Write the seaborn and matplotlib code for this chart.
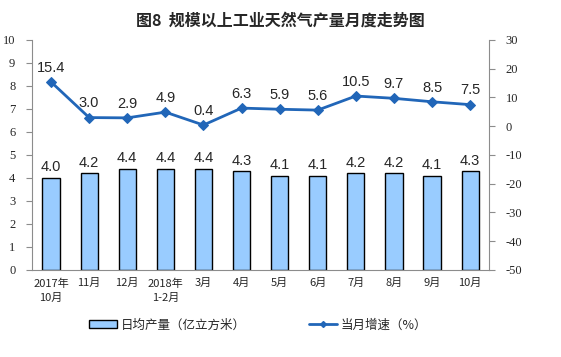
import numpy as np
import pandas as pd
import seaborn as sns
import matplotlib.pyplot as plt
from matplotlib.patches import Patch
from matplotlib.lines import Line2D

# data
months = ["2017年\n10月", "11月", "12月", "2018年\n1-2月", "3月", "4月",
          "5月", "6月", "7月", "8月", "9月", "10月"]
daily_output = [4.0, 4.2, 4.4, 4.4, 4.4, 4.3, 4.1, 4.1, 4.2, 4.2, 4.1, 4.3]
growth = [15.4, 3.0, 2.9, 4.9, 0.4, 6.3, 5.9, 5.6, 10.5, 9.7, 8.5, 7.5]

sns.set_style("white")
plt.rcParams['font.family'] = ['Noto Sans CJK SC', 'DejaVu Sans']
plt.rcParams['axes.unicode_minus'] = False

bar_color = "#99CCFF"
line_color = "#2166B8"
axis_color = "#8C8C8C"

df = pd.DataFrame({"month": months, "output": daily_output, "growth": growth})

fig = plt.figure(figsize=(5.61, 3.57), dpi=100)
ax = fig.add_axes([0.057, 0.244, 0.815, 0.644])

sns.barplot(data=df, x="month", y="output", color=bar_color, edgecolor="black",
            linewidth=1.0, width=0.45, saturation=1, ax=ax)
ax.set_xlim(-0.5, len(months) - 0.5)
ax.set_ylim(0, 10)
ax.set_yticks(range(0, 11))
ax.set_xlabel("")
ax.set_ylabel("")

for i, v in enumerate(daily_output):
    ax.text(i, v + 0.15, f"{v:.1f}", ha="center", va="bottom", fontsize=10.5,
            family="Liberation Sans")

ax2 = ax.twinx()
sns.lineplot(x=np.arange(len(months)), y=growth, color=line_color, marker="D",
             markersize=5, markeredgecolor=line_color, linewidth=2, ax=ax2)
ax2.set_ylim(-50, 30)
ax2.set_yticks(range(-50, 31, 10))
ax2.set_xlim(-0.5, len(months) - 0.5)

for i, v in enumerate(growth):
    ax2.text(i, v + 2.5, f"{v:.1f}", ha="center", va="bottom", fontsize=10.5,
             family="Liberation Sans")

# axis styling
for a in (ax, ax2):
    for s in a.spines.values():
        s.set_color(axis_color)
        s.set_linewidth(0.8)
    a.spines["top"].set_visible(False)
ax.spines["right"].set_visible(False)
ax2.spines["left"].set_visible(False)
ax2.spines["bottom"].set_visible(False)

ax.tick_params(axis="y", direction="out", length=4, color=axis_color, labelsize=9, pad=8)
ax2.tick_params(axis="y", direction="out", length=4, color=axis_color, labelsize=9, pad=8)
for lab in ax.get_yticklabels() + ax2.get_yticklabels():
    lab.set_family("Liberation Serif")

ax.set_xticks(np.arange(len(months)))
ax.set_xticklabels(months, fontsize=8, linespacing=1.5)
ax.tick_params(axis="x", length=0, pad=6)
ax.set_xticks(np.arange(-0.5, len(months)), minor=True)
ax.tick_params(axis="x", which="minor", direction="out", length=4, color=axis_color)

fig.suptitle("图8  规模以上工业天然气产量月度走势图", y=0.965, fontsize=11.5, fontweight="bold")

handles = [Patch(facecolor=bar_color, edgecolor="black", linewidth=1.0),
           Line2D([0], [0], color=line_color, marker="D", markersize=3, linewidth=2)]
fig.legend(handles, ["日均产量（亿立方米）", "当月增速（%）"], loc="center",
           bbox_to_anchor=(0.46, 0.09), ncol=2, frameon=False, fontsize=9,
           columnspacing=5, handlelength=2.3, handletextpad=0.3)

fig.savefig("out.png", dpi=100)
